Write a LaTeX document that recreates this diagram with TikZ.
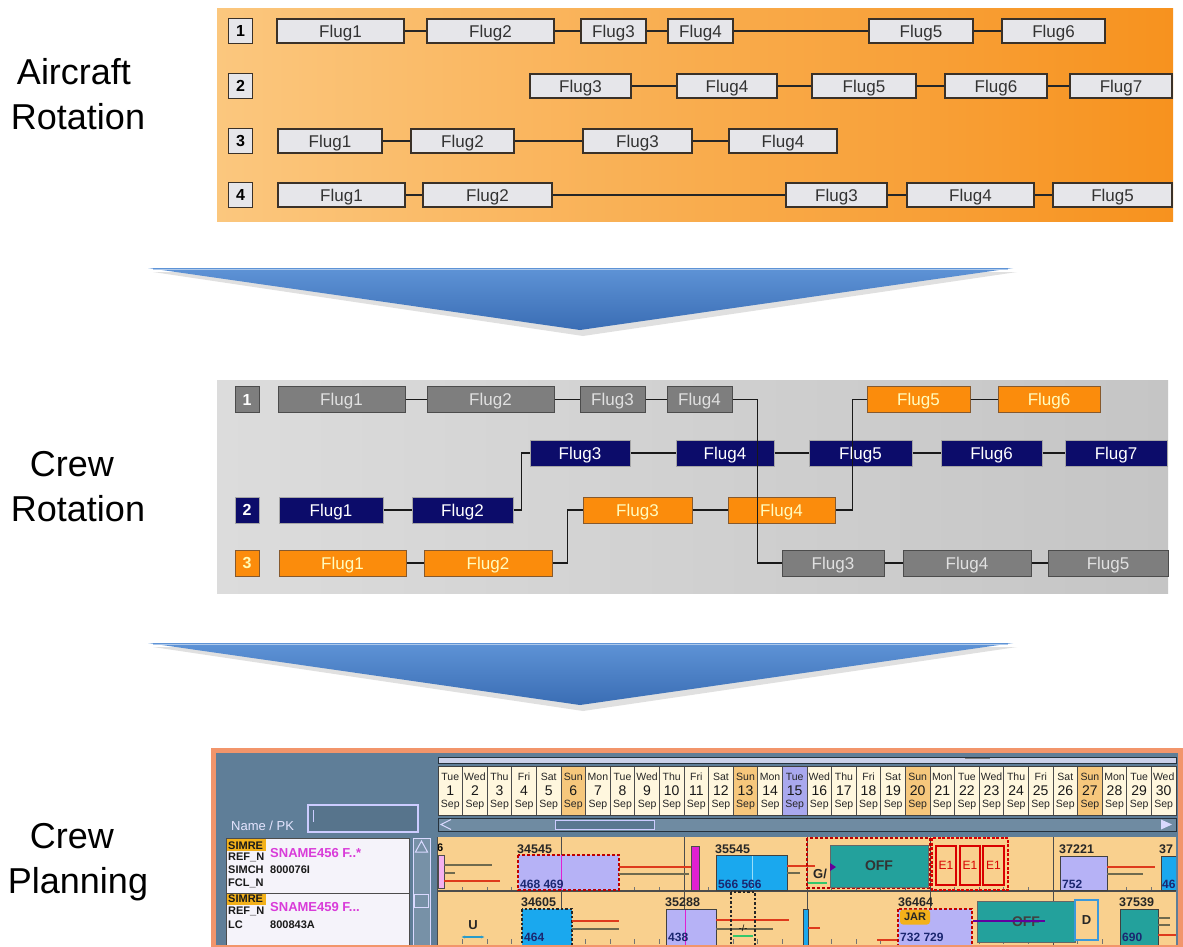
\documentclass[tikz,border=0pt]{standalone}
\usepackage{fontspec}
\setmainfont{Liberation Sans}
\usetikzlibrary{calc,arrows.meta}
\definecolor{orL}{HTML}{FBC77E}
\definecolor{orR}{HTML}{F7921E}
\definecolor{boxg}{HTML}{E6E6EA}
\definecolor{boxb}{HTML}{3A3128}
\definecolor{grL}{HTML}{DCDCDC}
\definecolor{grR}{HTML}{C5C5C5}
\definecolor{mgray}{HTML}{7E7E7E}
\definecolor{mnavy}{HTML}{0C0C6A}
\definecolor{morange}{HTML}{FB8C0C}
\definecolor{arT}{HTML}{5E93D6}
\definecolor{arB}{HTML}{3A6DB4}
\definecolor{slate}{HTML}{5F7E98}
\definecolor{framec}{HTML}{F2956B}
\definecolor{tanc}{HTML}{F9D08E}
\definecolor{lav}{HTML}{B6B2F6}
\definecolor{cyb}{HTML}{1AA8EE}
\definecolor{tealc}{HTML}{23A19C}
\definecolor{mag}{HTML}{E01FD2}
\definecolor{redl}{HTML}{DE3A1C}
\definecolor{olvl}{HTML}{6F6A4E}
\definecolor{dblue}{HTML}{1B2770}
\definecolor{pinkt}{HTML}{D93BD9}
\definecolor{ccream}{HTML}{FFF7DE}
\definecolor{csun}{HTML}{F6C77C}
\definecolor{ctue}{HTML}{A9A8EE}
\definecolor{goldh}{HTML}{F3B11A}
\definecolor{listbg}{HTML}{F5F3FA}
\newcommand\fl[6]{\node[#1, minimum width={(#4-#3)*1pt}] (#2) at ({(#3+#4)/2},#5) {#6};}
\tikzset{
 tb/.style={draw=boxb, line width=1.3pt, fill=boxg, minimum height=24pt, inner sep=0pt, text height=12.3pt, text depth=0pt, text=black!80, font=\fontsize{17}{17}\selectfont},
 tnum/.style={draw=boxb, line width=1.3pt, fill=boxg, minimum width=24pt, minimum height=25pt, inner sep=0pt, text height=11.5pt, text depth=0pt, font=\bfseries\fontsize{16}{16}\selectfont, text=black},
 tconn/.style={draw=black!85, line width=1.6pt},
 mb/.style={line width=1pt, minimum height=26pt, inner sep=0pt, text height=12.3pt, text depth=0pt, font=\fontsize{17}{17}\selectfont},
 mg/.style={mb, fill=mgray, draw=black!70, text=black!12},
 mn/.style={mb, fill=mnavy, draw=black!35, text=white},
 mo/.style={mb, fill=morange, draw=brown!70!black, text=yellow!25},
 mnum/.style={minimum width=24pt, minimum height=26pt, inner sep=0pt, text height=11.5pt, text depth=0pt, font=\bfseries\fontsize{16}{16}\selectfont, line width=1pt},
 mconn/.style={draw=black!90, line width=1.4pt},
 biglbl/.style={font=\fontsize{36}{36}\selectfont, anchor=base, inner sep=0pt, text=black},
 lbl/.style={font=\bfseries\fontsize{12.5}{12.5}\selectfont, anchor=base west, inner sep=0pt, text=black!85},
 btxt/.style={font=\bfseries\fontsize{12}{12}\selectfont, anchor=base west, inner sep=0pt, text=dblue},
 ltxt/.style={font=\bfseries\fontsize{11}{11}\selectfont, anchor=base west, inner sep=0pt, text=black!90},
 ptxt/.style={font=\bfseries\fontsize{13}{13}\selectfont, anchor=base west, inner sep=0pt, text=pinkt},
 reddash/.style={draw=red!75!black, line width=1.6pt, dash pattern=on 3pt off 2pt},
 blkdash/.style={draw=black!85, line width=1.6pt, dash pattern=on 2.5pt off 2pt},
 rl/.style={draw=redl, line width=1.6pt},
 gl/.style={draw=olvl, line width=1.3pt},
 daytxt/.style={anchor=base, inner sep=0pt, font=\fontsize{10.5}{10.5}\selectfont, text=black!85},
 numtxt/.style={anchor=base, inner sep=0pt, font=\fontsize{14}{14}\selectfont, text=black!90},
}
\begin{document}
\begin{tikzpicture}[x=1pt,y=-1pt]
\useasboundingbox (0,0) rectangle (1183,947);
\fill[white] (0,0) rectangle (1183,947);

% ---------- left labels ----------
\node[biglbl] (l1a) at (74,85) {Aircraft};
\node[biglbl] (l1b) at (78,130) {Rotation};
\node[biglbl] (l2a) at (72,476) {Crew};
\node[biglbl] (l2b) at (78,521) {Rotation};
\node[biglbl] (l3a) at (72,848) {Crew};
\node[biglbl] (l3b) at (78,893) {Planning};

% ---------- top panel ----------
\shade[left color=orL, right color=orR] (217,9) rectangle (1173,221);
\node[tnum] (t1) at (240.5,31) {1};
\node[tnum] (t2) at (240.5,86) {2};
\node[tnum] (t3) at (240.5,141) {3};
\node[tnum] (t4) at (240.5,195) {4};
\fl{tb}{a1}{277}{404}{31}{Flug1}
\fl{tb}{a2}{427}{554}{31}{Flug2}
\fl{tb}{a3}{581}{646}{31}{Flug3}
\fl{tb}{a4}{668}{733}{31}{Flug4}
\fl{tb}{a5}{869}{973}{31}{Flug5}
\fl{tb}{a6}{1002}{1105}{31}{Flug6}
\fl{tb}{b3}{530}{631}{86}{Flug3}
\fl{tb}{b4}{677}{777}{86}{Flug4}
\fl{tb}{b5}{812}{916}{86}{Flug5}
\fl{tb}{b6}{945}{1047}{86}{Flug6}
\fl{tb}{b7}{1070}{1172}{86}{Flug7}
\fl{tb}{c1}{278}{382}{141}{Flug1}
\fl{tb}{c2}{411}{514}{141}{Flug2}
\fl{tb}{c3}{583}{692}{141}{Flug3}
\fl{tb}{c4}{729}{837}{141}{Flug4}
\fl{tb}{d1}{278}{405}{195}{Flug1}
\fl{tb}{d2}{423}{552}{195}{Flug2}
\fl{tb}{d3}{786}{887}{195}{Flug3}
\fl{tb}{d4}{907}{1034}{195}{Flug4}
\fl{tb}{d5}{1053}{1172}{195}{Flug5}
\draw[tconn] (a1.east)--(a2.west) (a2.east)--(a3.west) (a3.east)--(a4.west) (a4.east)--(a5.west) (a5.east)--(a6.west);
\draw[tconn] (b3.east)--(b4.west) (b4.east)--(b5.west) (b5.east)--(b6.west) (b6.east)--(b7.west);
\draw[tconn] (c1.east)--(c2.west) (c2.east)--(c3.west) (c3.east)--(c4.west);
\draw[tconn] (d1.east)--(d2.west) (d2.east)--(d3.west) (d3.east)--(d4.west) (d4.east)--(d5.west);

% ---------- arrows ----------
\fill[black!40, opacity=0.3] (153,272) -- (1017,272) -- (583,336) -- cycle;
\shade[top color=arT, bottom color=arB] (148,268) -- (1013,268) -- (580,330) -- cycle;
\draw[arT!50!white, line width=1.2pt] (153,269.5) -- (1008,269.5);
\fill[black!40, opacity=0.3] (153,647) -- (1017,647) -- (583,711) -- cycle;
\shade[top color=arT, bottom color=arB] (148,643) -- (1013,643) -- (580,705) -- cycle;
\draw[arT!50!white, line width=1.2pt] (153,644.5) -- (1008,644.5);

% ---------- middle panel ----------
\shade[left color=grL, right color=grR] (217,380) rectangle (1168,593);
\node[mnum, fill=mgray, draw=black!70, text=white] (m1) at (247,399.5) {1};
\node[mnum, fill=mnavy, draw=black!35, text=white] (m2) at (247,510) {2};
\node[mnum, fill=morange, draw=brown!70!black, text=yellow!30] (m3) at (247,563) {3};
\fl{mg}{g1}{278}{405}{399.5}{Flug1}
\fl{mg}{g2}{427}{554}{399.5}{Flug2}
\fl{mg}{g3}{580}{645}{399.5}{Flug3}
\fl{mg}{g4}{667}{732}{399.5}{Flug4}
\fl{mo}{o5}{867}{970}{399.5}{Flug5}
\fl{mo}{o6}{998}{1100}{399.5}{Flug6}
\fl{mn}{n3}{530}{630}{453}{Flug3}
\fl{mn}{n4}{676}{774}{453}{Flug4}
\fl{mn}{n5}{809}{912}{453}{Flug5}
\fl{mn}{n6}{941}{1042}{453}{Flug6}
\fl{mn}{n7}{1065}{1167}{453}{Flug7}
\fl{mn}{n1}{279}{383}{510}{Flug1}
\fl{mn}{n2}{412}{513}{510}{Flug2}
\fl{mo}{o3}{583}{692}{510}{Flug3}
\fl{mo}{o4}{728}{835}{510}{Flug4}
\fl{mo}{o1}{279}{406}{563}{Flug1}
\fl{mo}{o2}{424}{552}{563}{Flug2}
\fl{mg}{h3}{782}{884}{563}{Flug3}
\fl{mg}{h4}{903}{1031}{563}{Flug4}
\fl{mg}{h5}{1048}{1168}{563}{Flug5}
\draw[mconn] (g1.east)--(g2.west) (g2.east)--(g3.west) (g3.east)--(g4.west);
\draw[mconn] (h3.east)--(h4.west) (h4.east)--(h5.west);
\draw[mconn] (n1.east)--(n2.west) (n3.east)--(n4.west) (n4.east)--(n5.west) (n5.east)--(n6.west) (n6.east)--(n7.west);
\draw[mconn] (o1.east)--(o2.west) (o3.east)--(o4.west) (o5.east)--(o6.west);
\draw[mconn] (n2.east) -- ++(8,0) |- (n3.west);
\draw[mconn] (o2.east) -- ++(15,0) |- (o3.west);
\draw[mconn] (g4.east) -- ++(25,0) |- (h3.west);
\draw[mconn] (o4.east) -- ++(17,0) |- (o5.west);

% ---------- bottom panel ----------
\fill[slate] (213,750) rectangle (1180,947);
% name / pk
\node[font=\fontsize{13}{13}\selectfont, text=white!90!blue, anchor=base west, inner sep=0pt] (npk) at (231,830) {Name / PK};
\draw[draw=blue!20!white, line width=1.2pt, fill=slate!92!black] (308,805) rectangle (418,832);
\draw[white!80!blue, line width=0.8pt] (313,810) -- (313,822);
% list
\draw[fill=listbg, draw=black!70, line width=1pt] (226,838) rectangle (409,947);
\draw[black!70, line width=1pt] (226,893) -- (409,893);
\fill[goldh] (226.5,838.5) rectangle (266,851);
\fill[goldh] (226.5,893.5) rectangle (266,905);
\node[ltxt] (r1a) at (228,849) {SIMRE};
\node[ltxt] (r1b) at (228,860) {REF\_N};
\node[ltxt] (r1c) at (228,873) {SIMCH};
\node[ltxt] (r1d) at (228,886) {FCL\_N};
\node[ptxt] (r1e) at (270,857) {SNAME456 F..*};
\node[ltxt] (r1f) at (270,873) {800076I};
\node[ltxt] (r2a) at (228,902) {SIMRE};
\node[ltxt] (r2b) at (228,914) {REF\_N};
\node[ltxt] (r2c) at (228,928) {LC};
\node[ptxt] (r2e) at (270,911) {SNAME459 F...};
\node[ltxt] (r2f) at (270,928) {800843A};
% list scroll
\draw[fill=slate!85!white, draw=blue!15!white, line width=1pt] (413,838) rectangle (430,947);
\draw[blue!15!white, line width=1pt] (415.5,852) -- (427.5,852) -- (421.5,841) -- cycle;
\draw[blue!15!white, line width=1pt] (414.5,894) rectangle (428,907);
% top strip
\draw[fill=blue!10!white!80!slate, draw=black!60!slate, line width=0.8pt] (438,757) rectangle (1176,763);
\draw[black!50, line width=1pt] (965,758) -- (990,758);
% date header
\foreach \dn/\dd/\dc [count=\i from 0] in {Tue/1/ccream,Wed/2/ccream,Thu/3/ccream,Fri/4/ccream,Sat/5/ccream,Sun/6/csun,Mon/7/ccream,Tue/8/ccream,Wed/9/ccream,Thu/10/ccream,Fri/11/ccream,Sat/12/ccream,Sun/13/csun,Mon/14/ccream,Tue/15/ctue,Wed/16/ccream,Thu/17/ccream,Fri/18/ccream,Sat/19/ccream,Sun/20/csun,Mon/21/ccream,Tue/22/ccream,Wed/23/ccream,Thu/24/ccream,Fri/25/ccream,Sat/26/ccream,Sun/27/csun,Mon/28/ccream,Tue/29/ccream,Wed/30/ccream}{
  \pgfmathsetmacro\xa{438+\i*24.6}
  \begin{scope}
    \clip (\xa,766) rectangle ++(24.6,49);
    \fill[fill=\dc] (\xa,766) rectangle ++(24.6,49);
    \node[daytxt] (dn\i) at ({\xa+12.3},780) {\dn};
    \node[numtxt] (dd\i) at ({\xa+12.3},795) {\dd};
    \node[daytxt] (ds\i) at ({\xa+12.3},807) {Sep};
  \end{scope}
  \draw[black!70, line width=0.8pt] (\xa,766) -- (\xa,815);
}
\draw[black!75, line width=1pt] (438,766) rectangle (1176,815);
% timeline scrollbar
\draw[fill=slate!90!white, draw=black!60!slate, line width=1pt] (438,818) rectangle (1176,831);
\draw[blue!15!white, line width=1pt] (451,819.5) -- (441,824.5) -- (451,829.5);
\draw[fill=slate!95!black, draw=blue!20!white, line width=1pt] (555,820) rectangle (654,829);
\fill[blue!15!white] (1172,824.5) -- (1161,819.5) -- (1161,829.5) -- cycle;
% grid
\fill[tanc] (438,837) rectangle (1176,947);
\begin{scope}
\clip (438,837) rectangle (1176,947);
\foreach \k in {1,...,29}{
  \draw[black!55, line width=0.8pt] ({438+\k*24.6},887) -- ({438+\k*24.6},890);
  \draw[black!55, line width=0.8pt] ({438+\k*24.6},939) -- ({438+\k*24.6},944);
}
\foreach \k in {561,684,807,930,1053}{\draw[black!70, line width=1pt] (\k,837) -- (\k,947);}
\draw[black!70, line width=1.2pt] (438,891) -- (1176,891);
% row 1
\node[font=\bfseries\fontsize{11}{11}\selectfont, anchor=base west, inner sep=0pt] (s0) at (437,851) {6};
\draw[fill=mag!35!white, draw=black!70, line width=0.8pt] (438,855) rectangle (444,888);
\draw[gl] (444,865) -- (492,865);
\draw[gl] (444,873) -- (455,873);
\draw[rl] (444,881) -- (500,881);
\node[lbl] (k1) at (517,853) {34545};
\fill[lav] (518,855) rectangle (619,890);
\draw[mag, line width=0.8pt] (561,855) -- (561,890);
\draw[reddash] (518,855) rectangle (619,890);
\node[btxt] (k1t) at (520,888) {468 469};
\draw[rl] (619,867) -- (691,867);
\draw[gl] (619,874) -- (689,874);
\draw[fill=mag, draw=black!70, line width=0.8pt] (691,846) rectangle (699,890);
\node[lbl] (k2) at (715,853) {35545};
\draw[fill=cyb, draw=black!75, line width=1pt] (716,855) rectangle (787,890);
\draw[cyan!40!white, line width=0.8pt] (752,856) -- (752,889);
\node[btxt] (k2t) at (718,888) {566 566};
\draw[rl] (787,866) -- (815,866);
\draw[gl] (787,873) -- (800,873);
\node[font=\bfseries\fontsize{13}{13}\selectfont, anchor=base west, inner sep=0pt, text=black!85] (g) at (813,878) {G/};
\draw[draw=green!45!teal!80!white, line width=2.5pt] (808,883) -- (827,883);
\draw[reddash] (807,838) rectangle (930,888);
\node[draw=black!60, line width=0.8pt, fill=tealc, minimum width=98pt, minimum height=42pt, inner sep=0pt, font=\bfseries\fontsize{14}{14}\selectfont, text=black!80] (off1) at (879,866) {OFF};
\fill[violet!80!blue] (830,863) -- (836,867) -- (830,871) -- cycle;
\draw[draw=red!85!black, line width=2.2pt, dash pattern=on 3pt off 1.5pt] (932,838) rectangle (1008,890);
\foreach \xl/\xr [count=\j] in {936/956,960/980,983/1004}{
  \node[draw=red!85!black, line width=1.8pt, fill=tanc, minimum width={(\xr-\xl)*1pt}, minimum height=39pt, inner sep=0pt, font=\fontsize{12}{12}\selectfont, text=red!85!black] (e\j) at ({(\xl+\xr)/2},865.5) {E1};
}
\node[lbl] (k3) at (1059,853) {37221};
\draw[fill=lav, draw=black!75, line width=1pt] (1060,856) rectangle (1107,890);
\node[btxt] (k3t) at (1062,888) {752};
\draw[rl] (1107,867) -- (1155,867);
\draw[gl] (1107,874) -- (1143,874);
\node[lbl] (k4) at (1159,853) {37};
\draw[fill=cyb, draw=black!75, line width=1pt] (1161,856) rectangle (1180,890);
\node[btxt] (k4t) at (1162,888) {46};
% row 2
\node[font=\bfseries\fontsize{13}{13}\selectfont, inner sep=0pt, text=black!85] (u) at (473,925) {U};
\draw[{Latex[length=4pt]}-{Latex[length=4pt]}, draw=cyan!60!teal, line width=2pt] (461,937) -- (485,937);
\node[lbl] (k5) at (521,906) {34605};
\fill[cyb] (522,909) rectangle (572,947);
\draw[blkdash] (522,909) rectangle (572,947);
\node[btxt] (k5t) at (524,941) {464};
\draw[rl] (572,921) -- (619,921);
\draw[gl] (572,929) -- (619,929);
\node[lbl] (k6) at (665,906) {35288};
\draw[fill=lav, draw=black!75, line width=1pt] (666,909) rectangle (716,947);
\draw[mag, line width=0.8pt] (685,910) -- (685,946);
\node[btxt] (k6t) at (668,941) {438};
\draw[rl] (716,920) -- (789,920);
\draw[gl] (716,929) -- (773,929);
\draw[blkdash] (731,892) rectangle (755,947);
\node[font=\fontsize{9}{9}\selectfont, inner sep=0pt] (sl) at (743,928) {-/-};
\draw[draw=green!45!teal!80!white, line width=2.5pt] (733,936) -- (753,936);
\draw[fill=cyb, draw=black!75, line width=0.8pt] (803,909) rectangle (808,947);
\draw[rl] (808,928) -- (820,928);
\draw[rl] (877,940) -- (900,940);
\node[lbl] (k7) at (898,906) {36464};
\fill[lav] (898,909) rectangle (972,947);
\draw[reddash] (898,909) rectangle (972,947);
\node[fill=goldh, rounded corners=3pt, minimum width=30pt, minimum height=15pt, inner sep=0pt, font=\bfseries\fontsize{11}{11}\selectfont, text=black!85] (jar) at (915,917) {JAR};
\node[btxt] (k7t) at (900,941) {732 729};
\node[draw=black!60, line width=0.8pt, fill=tealc, minimum width=98pt, minimum height=41pt, inner sep=0pt, font=\bfseries\fontsize{14}{14}\selectfont, text=black!75] (off2) at (1026,921.5) {OFF};
\draw[draw=violet!75!blue, line width=2pt] (973,921) -- (1045,921);
\node[draw=cyan!70!blue!80!white, line width=2.5pt, fill=tanc, minimum width=23pt, minimum height=40pt, inner sep=0pt, font=\bfseries\fontsize{13}{13}\selectfont, text=black!85] (dbox) at (1086.5,920) {D};
\node[lbl] (k8) at (1119,906) {37539};
\draw[fill=tealc, draw=black!75, line width=1pt] (1120,909) rectangle (1158,947);
\node[btxt] (k8t) at (1122,941) {690};
\draw[gl] (1158,918) -- (1170,918);
\draw[gl] (1158,925) -- (1170,925);
\draw[rl] (1158,935) -- (1176,935);
\end{scope}
\draw[black!70, line width=1pt] (437.5,837) -- (437.5,947);
% frame
\draw[framec, line width=5pt] (213,750) rectangle (1180,947);
\end{tikzpicture}
\end{document}
